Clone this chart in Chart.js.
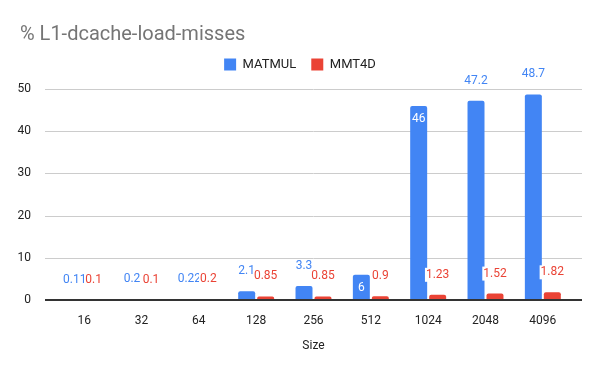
<!DOCTYPE html>
<html>
<head>
<meta charset="utf-8">
<script src="https://cdn.jsdelivr.net/npm/chart.js@4/dist/chart.umd.min.js"></script>
<style>
html,body{margin:0;padding:0;background:#fff;}
#wrap{width:600px;height:371px;}
</style>
</head>
<body>
<div id="wrap"><canvas id="c" width="600" height="371"></canvas></div>
<script>
const categories = ['16','32','64','128','256','512','1024','2048','4096'];
const matmul = [0.11, 0.2, 0.22, 2.1, 3.3, 6, 46, 47.2, 48.7];
const mmt4d = [0.1, 0.1, 0.2, 0.85, 0.85, 0.9, 1.23, 1.52, 1.82];
const yTicks = [0, 10, 20, 30, 40, 50];
const matmulInsideLabels = ['512', '1024'];

const BLUE = '#4285F4', RED = '#EA4335';
const FONT = 'Roboto, "Noto Sans", Arial, sans-serif';

const gridPlugin = {
  id: 'gridExt',
  beforeDatasetsDraw(chart) {
    const {ctx, chartArea} = chart;
    const y = chart.scales.y;
    ctx.save();
    yTicks.forEach(v => {
      if (v === 0) return;
      const py = Math.round(y.getPixelForValue(v)) + 0.5;
      ctx.beginPath();
      ctx.strokeStyle = '#cccccc';
      ctx.lineWidth = 1;
      ctx.moveTo(chartArea.left - 10.5, py);
      ctx.lineTo(chartArea.right + 10.5, py);
      ctx.stroke();
    });
    ctx.restore();
  },
  afterDatasetsDraw(chart) {
    const {ctx} = chart;
    const y = chart.scales.y;
    ctx.save();
    const py = Math.round(y.getPixelForValue(0));
    ctx.beginPath();
    ctx.strokeStyle = '#333333';
    ctx.lineWidth = 2;
    ctx.moveTo(chart.chartArea.left - 10.5, py);
    ctx.lineTo(chart.chartArea.right + 10.5, py);
    ctx.stroke();
    ctx.restore();
  }
};

const labelPlugin = {
  id: 'barLabels',
  afterDraw(chart) {
    const {ctx} = chart;
    ctx.save();
    ctx.font = '12px ' + FONT;
    ctx.textAlign = 'center';
    ctx.textBaseline = 'middle';
    chart.data.datasets.forEach((ds, di) => {
      const meta = chart.getDatasetMeta(di);
      meta.data.forEach((bar, i) => {
        const txt = String(ds.data[i]);
        const inside = di === 0 && matmulInsideLabels.includes(categories[i]);
        if (inside) {
          ctx.fillStyle = '#ffffff';
          ctx.fillText(txt, bar.x, bar.y + 13);
        } else {
          const w = ctx.measureText(txt).width;
          const cy = bar.y - 20;
          ctx.fillStyle = '#ffffff';
          ctx.fillRect(bar.x - w / 2 - 1, cy - 7, w + 2, 14);
          ctx.fillStyle = ds.backgroundColor;
          ctx.fillText(txt, bar.x, cy);
        }
      });
    });
    ctx.restore();
  }
};

new Chart(document.getElementById('c'), {
  type: 'bar',
  data: {
    labels: categories,
    datasets: [
      {label: 'MATMUL', data: matmul, backgroundColor: BLUE, borderRadius: 2,
       categoryPercentage: 0.662, barPercentage: 0.895},
      {label: 'MMT4D', data: mmt4d, backgroundColor: RED, borderRadius: 2,
       categoryPercentage: 0.662, barPercentage: 0.895}
    ]
  },
  options: {
    responsive: false,
    animation: false,
    layout: {padding: {left: 20, right: 20, top: 0, bottom: 11}},
    plugins: {
      title: {
        display: true, text: '% L1-dcache-load-misses', align: 'start',
        color: '#757575', font: {family: FONT, size: 20, weight: 'normal'},
        padding: {top: 23, bottom: -4}
      },
      subtitle: {
        display: true, text: '', weight: 500, position: 'top',
        font: {size: 1, lineHeight: 1}, padding: {top: 0, bottom: 7}
      },
      legend: {
        display: true, position: 'top', align: 'center',
        labels: {boxWidth: 12, boxHeight: 12, padding: 15, color: '#222222',
                 font: {family: FONT, size: 13}}
      },
      tooltip: {enabled: false}
    },
    scales: {
      x: {
        grid: {display: false}, border: {display: false},
        ticks: {color: '#222222', font: {family: FONT, size: 12}, padding: 6},
        title: {display: true, text: 'Size', color: '#222222',
                font: {family: FONT, size: 12}, padding: {top: 16, bottom: 7}},
        afterFit(s) { s.height = 60; }
      },
      y: {
        min: 0, max: 50,
        afterBuildTicks(s) { s.ticks = yTicks.map(v => ({value: v})); },
        grid: {display: false}, border: {display: false},
        ticks: {color: '#222222', font: {family: FONT, size: 12}, padding: 16.5},
        afterFit(s) { s.width = 35.5; s._computeLabelArea = function () { return undefined; }; }
      },
      yRight: {
        position: 'right', display: true,
        grid: {display: false}, border: {display: false},
        ticks: {display: false},
        afterFit(s) { s.width = 8.5; }
      }
    }
  },
  plugins: [gridPlugin, labelPlugin]
});
</script>
</body>
</html>
